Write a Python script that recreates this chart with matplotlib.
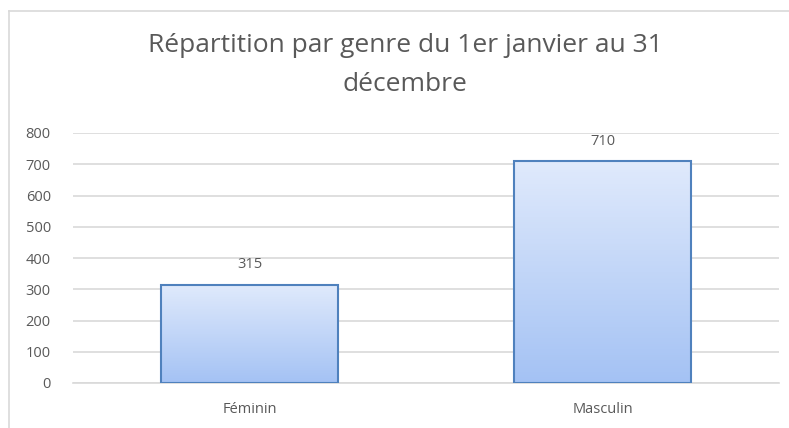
import matplotlib
matplotlib.use("Agg")
import matplotlib.pyplot as plt
import numpy as np
from matplotlib.lines import Line2D

categories = ["Féminin", "Masculin"]
values = [315, 710]
yticks = [0, 100, 200, 300, 400, 500, 600, 700, 800]
title = "Répartition par genre du 1er janvier au 31\ndécembre"

plt.rcParams['font.family'] = ['Open Sans', 'DejaVu Sans']
text_color = '#595959'
grid_color = '#d9d9d9'

fig = plt.figure(figsize=(7.89, 4.28), dpi=100)
ax = fig.add_axes([73 / 789, 1 - 383 / 428, 706 / 789, 250 / 428])

x = np.arange(len(categories))
bars = ax.bar(x, values, width=0.5, color='none', edgecolor='#4f81bd', linewidth=1.5, zorder=3)

# vertical gradient inside each bar
grad = np.linspace(0, 1, 256).reshape(-1, 1)
cmap = matplotlib.colors.LinearSegmentedColormap.from_list('g', ['#a4c2f4', '#e0eafc'])
for b in bars:
    x0, y0 = b.get_x(), b.get_y()
    w, h = b.get_width(), b.get_height()
    im = ax.imshow(grad, cmap=cmap, aspect='auto', origin='lower',
                   extent=[x0, x0 + w, y0, y0 + h], zorder=2)
    im.set_clip_path(b)

for xi, v in zip(x, values):
    ax.annotate(str(v), (xi, v), xytext=(0, 9), textcoords='offset points',
                ha='center', va='bottom', fontsize=10.5, color=text_color)

ax.set_xlim(-0.5, 1.5)
ax.set_ylim(0, 800)
ax.set_yticks(yticks)
ax.set_xticks(x)
ax.set_xticklabels(categories)
ax.yaxis.grid(True, color=grid_color, linewidth=1.2, zorder=0)
ax.set_axisbelow(True)
for s in ['top', 'right', 'left']:
    ax.spines[s].set_visible(False)
ax.spines['bottom'].set_color(grid_color)
ax.spines['bottom'].set_linewidth(1.2)
ax.tick_params(axis='both', length=0, colors=text_color, labelsize=10.5)
ax.tick_params(axis='y', pad=16)
ax.tick_params(axis='x', pad=14)

fig.text(405 / 789, 1 - 65 / 428, title, ha='center', va='center', fontsize=19,
         color=text_color, linespacing=1.7)

# chart frame
fig.add_artist(Line2D([9 / 789, 9 / 789], [0, 1 - 11 / 428], transform=fig.transFigure,
                      color=grid_color, linewidth=1.2))
fig.add_artist(Line2D([9 / 789, 1], [1 - 11 / 428, 1 - 11 / 428], transform=fig.transFigure,
                      color=grid_color, linewidth=1.2))

fig.savefig('out.png', dpi=100)
